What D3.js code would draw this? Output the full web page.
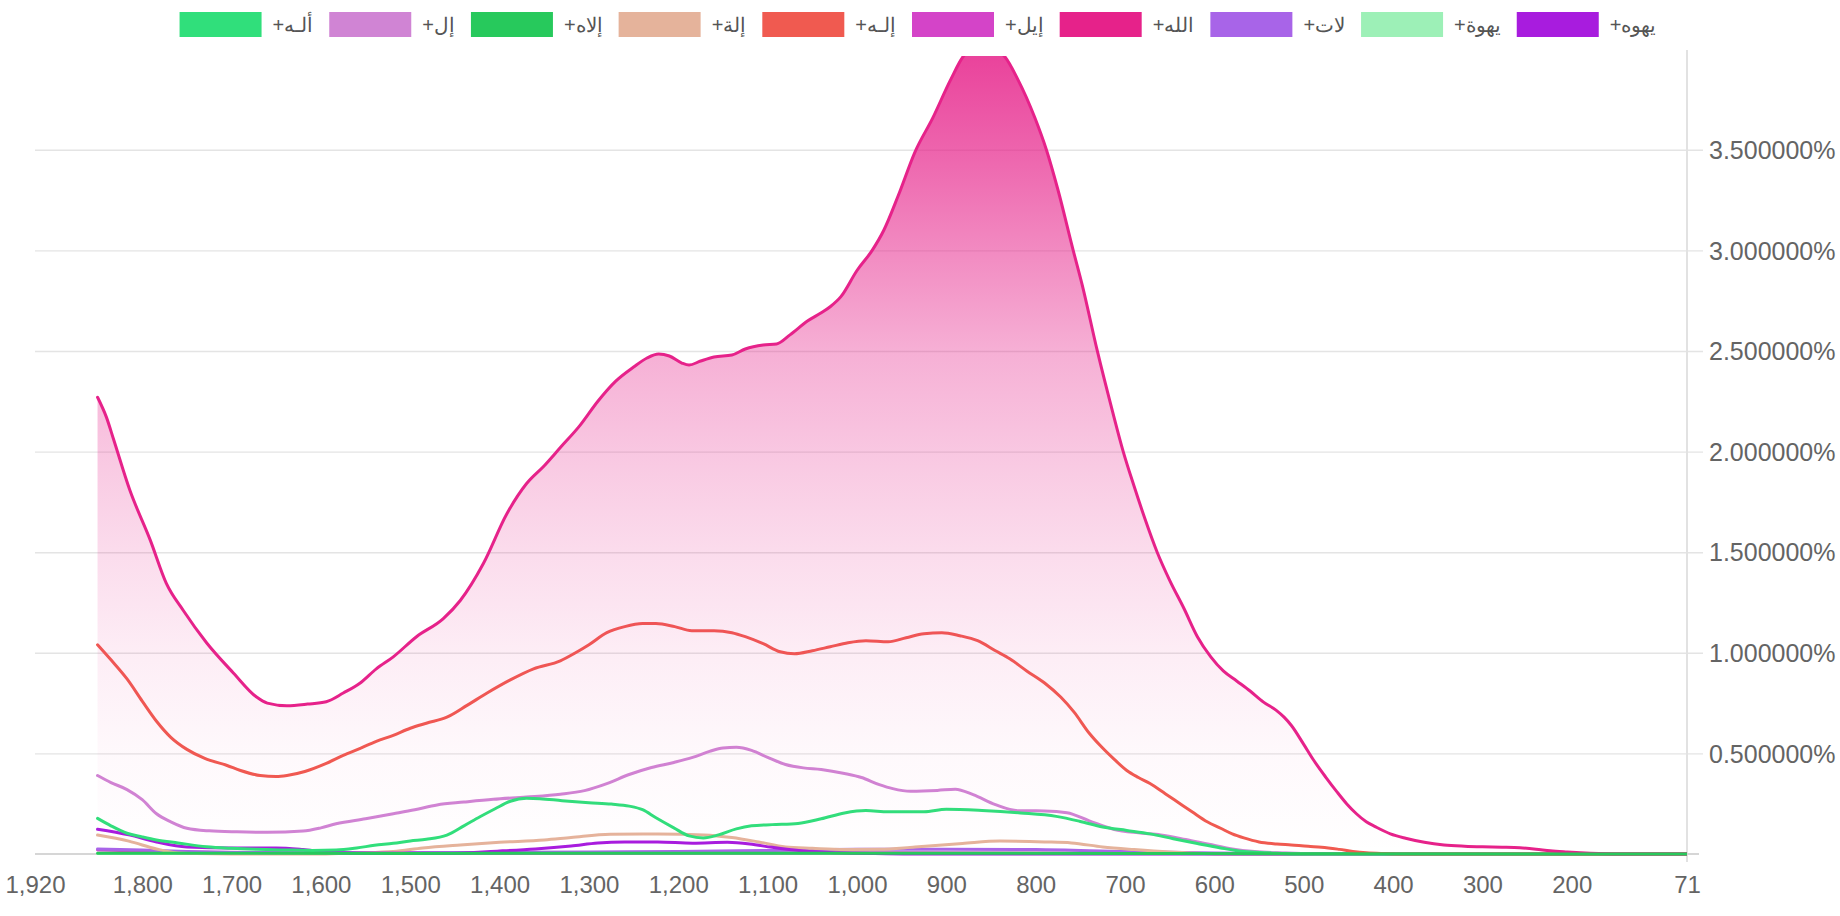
<!DOCTYPE html>
<html>
<head>
<meta charset="utf-8">
<script src="https://cdn.jsdelivr.net/npm/d3@7"></script>
<style>
  html, body { margin: 0; padding: 0; background: #fff; }
  svg { display: block; }
  text { font-family: "Liberation Sans", Arial, Helvetica, sans-serif; }
</style>
</head>
<body>
<svg id="chart" width="1840" height="916"></svg>
<script>
// ---------- DATA ----------
const seriesNames = ["ألـه+", "إل+", "إلاه+", "إلة+", "إلـه+", "إيل+", "الله+", "لات+", "يهوة+", "يهوه+"];
const seriesColors = ["#30df7b", "#d084d4", "#27c95c", "#e5b39b", "#f05a50", "#d444c8", "#e6228a", "#a864e8", "#9df0b7", "#a81cde"];

const xTickValues = [1920, 1800, 1700, 1600, 1500, 1400, 1300, 1200, 1100, 1000, 900, 800, 700, 600, 500, 400, 300, 200, 71];
const yTickValues = [0.5, 1.0, 1.5, 2.0, 2.5, 3.0, 3.5];
const xDomain = [1920, 71];
const yDomain = [0, 3.966];

// [year, percent]
const allahData = [[1850,2.27],[1840,2.17],[1832,2.06],[1814,1.81],[1791,1.56],[1773,1.345],[1754,1.21],[1728,1.05],[1698,0.90],[1672,0.78],[1660,0.75],[1638,0.737],[1615,0.745],[1594,0.757],[1575,0.80],[1556,0.85],[1538,0.92],[1519,0.98],[1493,1.08],[1463,1.17],[1444,1.26],[1418,1.445],[1392,1.69],[1370,1.84],[1350,1.93],[1332,2.02],[1310,2.13],[1290,2.25],[1270,2.35],[1250,2.42],[1235,2.465],[1222,2.485],[1210,2.475],[1196,2.44],[1188,2.43],[1175,2.45],[1160,2.47],[1140,2.48],[1125,2.51],[1105,2.53],[1090,2.535],[1075,2.58],[1055,2.65],[1040,2.69],[1030,2.72],[1018,2.77],[1000,2.9],[983,3.0],[970,3.1],[954,3.27],[935,3.49],[915,3.66],[895,3.85],[880,3.97],[870,4.0],[850,4.0],[836,3.97],[820,3.85],[801,3.66],[788,3.50],[775,3.30],[758,3.0],[748,2.83],[731,2.50],[714,2.20],[702,2.0],[690,1.83],[678,1.67],[664,1.50],[650,1.36],[634,1.22],[619,1.08],[604,0.98],[590,0.91],[575,0.86],[560,0.81],[545,0.755],[531,0.715],[522,0.68],[514,0.64],[500,0.545],[489,0.467],[475,0.38],[463,0.31],[452,0.25],[441,0.20],[430,0.16],[420,0.136],[403,0.10],[386,0.078],[365,0.058],[343,0.045],[320,0.039],[300,0.036],[278,0.034],[258,0.031],[240,0.024],[224,0.016],[205,0.01],[190,0.006],[170,0.002],[150,0],[71,0]];

const ilahData = [[1850,1.04],[1835,0.965],[1817,0.87],[1800,0.76],[1784,0.66],[1768,0.58],[1750,0.52],[1730,0.475],[1705,0.44],[1690,0.415],[1668,0.39],[1650,0.385],[1638,0.39],[1618,0.41],[1594,0.45],[1575,0.49],[1556,0.525],[1538,0.56],[1519,0.59],[1500,0.625],[1482,0.65],[1459,0.68],[1436,0.74],[1414,0.80],[1388,0.865],[1362,0.92],[1332,0.96],[1315,1.0],[1300,1.04],[1280,1.10],[1260,1.13],[1240,1.145],[1225,1.145],[1204,1.13],[1185,1.11],[1160,1.11],[1140,1.10],[1125,1.08],[1105,1.045],[1086,1.005],[1070,0.995],[1050,1.01],[1030,1.03],[1010,1.05],[990,1.06],[965,1.055],[945,1.075],[925,1.095],[905,1.10],[885,1.085],[865,1.06],[845,1.01],[829,0.97],[810,0.91],[790,0.85],[772,0.78],[757,0.705],[740,0.60],[728,0.54],[712,0.47],[698,0.415],[685,0.38],[672,0.35],[655,0.30],[640,0.255],[625,0.21],[608,0.16],[593,0.128],[580,0.10],[567,0.08],[550,0.06],[530,0.05],[514,0.045],[495,0.038],[480,0.034],[460,0.023],[445,0.013],[430,0.006],[410,0.002],[390,0],[71,0]];

const ilData = [[1850,0.39],[1835,0.355],[1817,0.32],[1800,0.27],[1784,0.20],[1768,0.16],[1750,0.128],[1725,0.115],[1694,0.11],[1660,0.108],[1620,0.114],[1600,0.13],[1583,0.15],[1550,0.175],[1519,0.20],[1495,0.22],[1470,0.244],[1440,0.258],[1407,0.272],[1370,0.283],[1332,0.297],[1305,0.315],[1280,0.35],[1255,0.395],[1230,0.43],[1205,0.455],[1184,0.48],[1165,0.51],[1150,0.527],[1135,0.53],[1118,0.515],[1100,0.48],[1080,0.445],[1060,0.428],[1040,0.42],[1014,0.40],[995,0.38],[975,0.345],[960,0.325],[940,0.312],[910,0.316],[890,0.322],[870,0.295],[845,0.245],[820,0.215],[790,0.214],[765,0.205],[740,0.165],[712,0.122],[685,0.105],[660,0.095],[632,0.072],[606,0.048],[580,0.025],[555,0.012],[520,0.005],[480,0],[71,0]];

const alhData = [[1850,0.177],[1835,0.14],[1817,0.103],[1800,0.085],[1784,0.07],[1760,0.055],[1728,0.036],[1700,0.028],[1672,0.023],[1640,0.02],[1610,0.018],[1583,0.02],[1560,0.03],[1540,0.043],[1519,0.053],[1500,0.065],[1482,0.073],[1459,0.094],[1440,0.14],[1422,0.185],[1405,0.225],[1388,0.262],[1370,0.277],[1355,0.275],[1330,0.265],[1300,0.255],[1275,0.248],[1255,0.238],[1240,0.22],[1225,0.18],[1205,0.13],[1188,0.09],[1172,0.08],[1155,0.095],[1135,0.125],[1118,0.14],[1095,0.146],[1066,0.152],[1040,0.175],[1014,0.204],[990,0.216],[965,0.21],[925,0.21],[900,0.222],[860,0.216],[817,0.204],[777,0.187],[751,0.163],[725,0.134],[698,0.117],[672,0.10],[646,0.076],[619,0.052],[593,0.03],[567,0.012],[541,0.006],[510,0],[71,0]];

const ilahaData = [[1850,0.094],[1815,0.064],[1784,0.025],[1765,0.008],[1740,0.002],[1700,0],[1600,0],[1560,0.005],[1519,0.012],[1486,0.03],[1444,0.045],[1400,0.058],[1350,0.07],[1320,0.082],[1276,0.098],[1223,0.1],[1171,0.095],[1140,0.082],[1110,0.06],[1080,0.035],[1050,0.028],[1014,0.022],[974,0.023],[935,0.035],[882,0.052],[840,0.064],[790,0.06],[760,0.055],[725,0.035],[690,0.022],[650,0.01],[619,0.004],[590,0],[71,0]];

const yhwhData = [[1850,0.123],[1815,0.095],[1784,0.06],[1750,0.035],[1700,0.03],[1650,0.03],[1620,0.022],[1594,0.01],[1560,0.005],[1460,0.004],[1400,0.015],[1360,0.025],[1320,0.04],[1290,0.055],[1260,0.06],[1223,0.06],[1184,0.054],[1145,0.058],[1120,0.05],[1095,0.033],[1060,0.015],[1020,0.006],[980,0.002],[940,0],[71,0]];

const latData = [[1850,0.025],[1800,0.02],[1750,0.012],[1700,0.008],[1600,0.006],[1500,0.006],[1400,0.008],[1300,0.01],[1200,0.012],[1100,0.018],[1000,0.024],[900,0.024],[800,0.022],[700,0.012],[600,0.005],[500,0.002],[400,0],[71,0]];

const ilData2 = [[1850,0.02],[1750,0.01],[1600,0.005],[1300,0.004],[1000,0.006],[800,0.005],[600,0.002],[400,0],[71,0]];
const ilahData2 = [[1850,0.004],[1500,0.003],[1000,0.004],[700,0.003],[500,0.001],[71,0]];
const yahwaData = [[1850,0.002],[1000,0.002],[500,0.001],[71,0]];

// index in seriesNames -> data
const seriesData = [alhData, ilData, ilahData2, ilahaData, ilahData, ilData2, allahData, latData, yahwaData, yhwhData];
// drawing order (back to front)
const drawOrder = [8, 5, 7, 3, 9, 1, 0, 4, 6, 2];

// ---------- LAYOUT ----------
const svg = d3.select("#chart");
const plotLeft = 35, plotRight = 1687, plotTop = 56, plotBottom = 854;

const x = d3.scaleLinear().domain(xDomain).range([plotLeft, plotRight]);
const y = d3.scaleLinear().domain(yDomain).range([plotBottom, plotTop]);

const defs = svg.append("defs");
defs.append("clipPath").attr("id", "plotclip")
  .append("rect").attr("x", plotLeft).attr("y", plotTop)
  .attr("width", plotRight - plotLeft).attr("height", plotBottom - plotTop + 6);

const grad = defs.append("linearGradient").attr("id", "pinkgrad")
  .attr("gradientUnits", "userSpaceOnUse")
  .attr("x1", 0).attr("x2", 0).attr("y1", plotTop).attr("y2", plotBottom);
const gStops = [[0, 0.85], [0.12, 0.7], [0.25, 0.52], [0.37, 0.36], [0.5, 0.25], [0.62, 0.16], [0.75, 0.08], [0.87, 0.03], [1, 0]];
gStops.forEach(s => grad.append("stop").attr("offset", s[0]).attr("stop-color", seriesColors[6]).attr("stop-opacity", s[1]));

// grid lines (y)
const yAxis = d3.axisRight(y).tickValues(yTickValues)
  .tickSize(-(plotRight - plotLeft))
  .tickFormat(d => d3.format(".6f")(d) + "%");
const yg = svg.append("g").attr("transform", `translate(${plotRight},0)`).call(yAxis);
yg.select(".domain").remove();
yg.selectAll(".tick line").attr("stroke", "#e4e4e4").attr("stroke-width", 1.4).attr("x2", 16).attr("x1", -(plotRight - plotLeft));
yg.selectAll(".tick text").attr("x", 22).attr("dy", "0.35em")
  .attr("fill", "#646464").style("font-size", "25px").style("font-family", '"Liberation Sans", Arial, sans-serif');

// right vertical axis line
svg.append("line").attr("x1", plotRight).attr("x2", plotRight).attr("y1", 50).attr("y2", plotBottom + 8)
  .attr("stroke", "#e2e2e2").attr("stroke-width", 2);

// x axis
const xAxis = d3.axisBottom(x).tickValues(xTickValues).tickSize(0).tickPadding(22).tickFormat(d3.format(","));
const xg = svg.append("g").attr("transform", `translate(0,${plotBottom})`).call(xAxis);
xg.select(".domain").attr("stroke", "#d6d6d6").attr("stroke-width", 2)
  .attr("d", `M${plotLeft},0H${plotRight + 12}`);
xg.selectAll(".tick text").attr("fill", "#646464").style("font-size", "24px")
  .style("font-family", '"Liberation Sans", Arial, sans-serif');

// series
const plot = svg.append("g").attr("clip-path", "url(#plotclip)");
const line = d3.line().x(d => x(d[0])).y(d => y(d[1])).curve(d3.curveMonotoneX);
const area = d3.area().x(d => x(d[0])).y0(plotBottom).y1(d => y(d[1])).curve(d3.curveMonotoneX);

drawOrder.forEach(i => {
  const data = seriesData[i].slice().sort((a, b) => b[0] - a[0]);
  if (i === 6) {
    plot.append("path").datum(data).attr("d", area).attr("fill", "url(#pinkgrad)");
  }
  plot.append("path").datum(data).attr("d", line)
    .attr("fill", "none").attr("stroke", seriesColors[i])
    .attr("stroke-width", 3)
    .attr("stroke-linejoin", "round").attr("stroke-linecap", "round");
});

// legend
const legend = svg.append("g");
const swW = 82, swH = 25, gapSwText = 11, gapItem = 16;
const items = legend.selectAll("g.item").data(seriesNames).enter().append("g").attr("class", "item");
items.append("rect").attr("width", swW).attr("height", swH).attr("y", 12)
  .attr("fill", (d, i) => seriesColors[i]);
const labels = items.append("text").text(d => d)
  .attr("y", 25).attr("dy", "0.35em")
  .attr("fill", "#555").style("font-size", "20px")
  .style("direction", "rtl").attr("text-anchor", "end");
const widths = [];
labels.each(function() { widths.push(this.getComputedTextLength()); });
let total = 0;
widths.forEach((w, i) => { total += swW + gapSwText + w + (i < widths.length - 1 ? gapItem : 0); });
let cx = 918 - total / 2;
items.each(function(d, i) {
  const g = d3.select(this);
  g.select("rect").attr("x", cx);
  g.select("text").attr("x", cx + swW + gapSwText);
  cx += swW + gapSwText + widths[i] + gapItem;
});
</script>
</body>
</html>
